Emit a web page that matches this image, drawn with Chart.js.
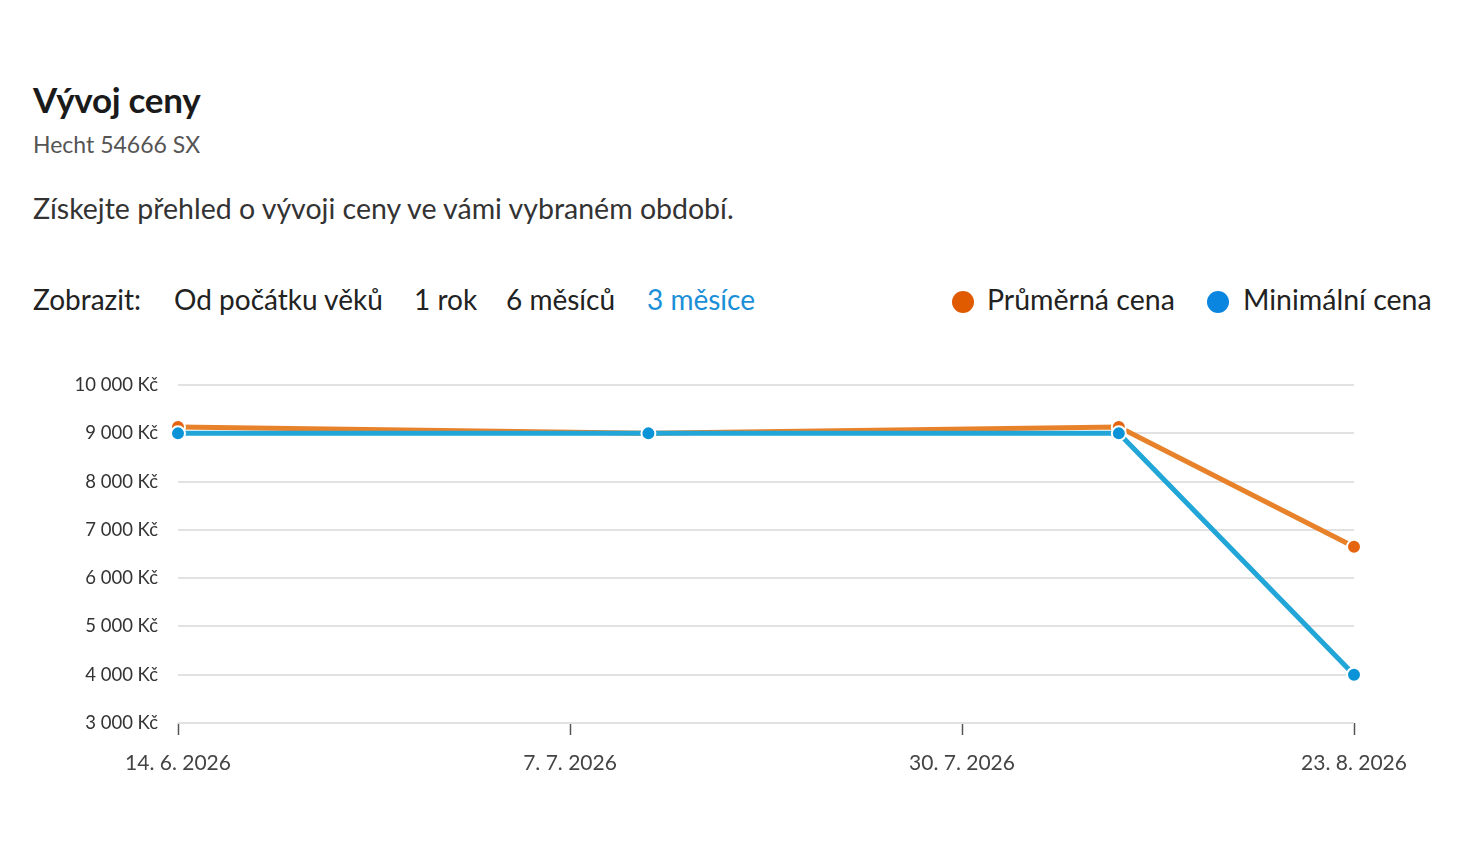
<!DOCTYPE html>
<html lang="cs">
<head>
<meta charset="utf-8">
<title>Vývoj ceny</title>
<script src="https://cdn.jsdelivr.net/npm/chart.js@4.4.1/dist/chart.umd.min.js"></script>
<style>
  html, body { margin: 0; padding: 0; background: #fff; }
  body { width: 1462px; height: 866px; position: relative; overflow: hidden;
         font-family: Lato, "Noto Sans", sans-serif; color: #222; }
  .abs { position: absolute; white-space: nowrap; }
  #title { left: 33px; top: 78px; font-size: 35px; font-weight: 700; color: #1a1a1a; letter-spacing: -0.3px; }
  #subtitle { left: 33px; top: 130px; font-size: 23px; color: #555; }
  #desc { left: 33px; top: 191px; font-size: 28.5px; color: #333; }
  .period { top: 282px; font-size: 28px; color: #222; }
  .period.active { color: #1a8fd8; }
  .legend-item { top: 282px; font-size: 28.5px; color: #222; }
  .dot { position: absolute; width: 22px; height: 22px; border-radius: 50%; top: 291px; }
  #chart-wrap { position: absolute; left: 0; top: 354px; width: 1462px; height: 446px; }
</style>
</head>
<body>
<div id="title" class="abs">Vývoj ceny</div>
<div id="subtitle" class="abs">Hecht 54666 SX</div>
<div id="desc" class="abs">Získejte přehled o vývoji ceny ve vámi vybraném období.</div>

<div class="abs period" style="left:33px">Zobrazit:</div>
<div class="abs period" style="left:174px">Od počátku věků</div>
<div class="abs period" style="left:414px">1 rok</div>
<div class="abs period" style="left:506px">6 měsíců</div>
<div class="abs period active" style="left:647px">3 měsíce</div>

<div id="legend"></div>

<div id="chart-wrap"><canvas id="priceChart"></canvas></div>

<script>
  // Data
  const dates = ['2026-06-14', '2026-07-12', '2026-08-09', '2026-08-23'];
  const avgPrice = [9130, 9000, 9130, 6650];
  const minPrice = [9000, 9000, 9000, 4000];
  const seriesNames = ['Průměrná cena', 'Minimální cena'];
  const tickLabels = ['14. 6. 2026', '7. 7. 2026', '30. 7. 2026', '23. 8. 2026'];
  const yMin = 3000;
  const yMax = 10000;
  const yStep = 1000;

  const avgLine = '#e8822a';
  const avgPoint = '#e56410';
  const minLine = '#22a6d8';
  const minPoint = '#0a93d6';
  const legendDots = ['#e05a00', '#0a86e0'];

  const DAY = 24 * 3600 * 1000;
  const start = Date.parse(dates[0]);
  const end = Date.parse(dates[dates.length - 1]);
  const toDay = function(d) { return (Date.parse(d) - start) / DAY; };
  const span = (end - start) / DAY;

  function formatKc(v) {
    return String(v).replace(/\B(?=(\d{3})+(?!\d))/g, '\u00a0') + '\u00a0Kč';
  }

  // HTML legend
  const legendPos = [{ dot: 952, text: 987 }, { dot: 1207, text: 1243 }];
  const legend = document.getElementById('legend');
  seriesNames.forEach(function(name, i) {
    const dot = document.createElement('div');
    dot.className = 'dot';
    dot.style.left = legendPos[i].dot + 'px';
    dot.style.background = legendDots[i];
    legend.appendChild(dot);
    const label = document.createElement('div');
    label.className = 'abs legend-item';
    label.style.left = legendPos[i].text + 'px';
    label.textContent = name;
    legend.appendChild(label);
  });

  const ctx = document.getElementById('priceChart').getContext('2d');
  new Chart(ctx, {
    type: 'line',
    data: {
      datasets: [
        {
          label: seriesNames[1],
          data: dates.map(function(d, i) { return { x: toDay(d), y: minPrice[i] }; }),
          borderColor: minLine,
          borderWidth: 5,
          pointBackgroundColor: minPoint,
          pointBorderColor: '#fff',
          pointBorderWidth: 2,
          pointRadius: 7,
          tension: 0,
          clip: false
        },
        {
          label: seriesNames[0],
          data: dates.map(function(d, i) { return { x: toDay(d), y: avgPrice[i] }; }),
          borderColor: avgLine,
          borderWidth: 5,
          pointBackgroundColor: avgPoint,
          pointBorderColor: '#fff',
          pointBorderWidth: 2,
          pointRadius: 7,
          tension: 0,
          clip: false
        }
      ]
    },
    options: {
      responsive: true,
      maintainAspectRatio: false,
      animation: false,
      layout: { padding: { top: 18, right: 108, left: 0, bottom: 0 } },
      plugins: {
        legend: { display: false },
        tooltip: { enabled: false }
      },
      scales: {
        x: {
          type: 'linear',
          min: 0,
          max: span,
          afterBuildTicks: function(scale) {
            scale.ticks = tickLabels.map(function(t, i) {
              return { value: span * i / (tickLabels.length - 1) };
            });
          },
          afterFit: function(scale) { scale.height = 77; },
          ticks: {
            callback: function(value, index) { return tickLabels[index]; },
            color: '#444',
            font: { family: 'Lato, "Noto Sans", sans-serif', size: 21 },
            padding: 16,
            maxRotation: 0,
            autoSkip: false
          },
          grid: {
            drawOnChartArea: false,
            drawTicks: true,
            tickLength: 12,
            tickColor: '#555',
            tickWidth: 1.5
          },
          border: { display: false }
        },
        y: {
          min: yMin,
          max: yMax,
          afterFit: function(scale) { scale.width = 178; },
          ticks: {
            stepSize: yStep,
            callback: function(value) { return formatKc(value); },
            color: '#333',
            font: { family: 'Lato, "Noto Sans", sans-serif', size: 18.5 },
            padding: 20
          },
          grid: {
            color: '#e2e2e2',
            lineWidth: 2,
            drawTicks: false
          },
          border: { display: false }
        }
      }
    }
  });
</script>
</body>
</html>
